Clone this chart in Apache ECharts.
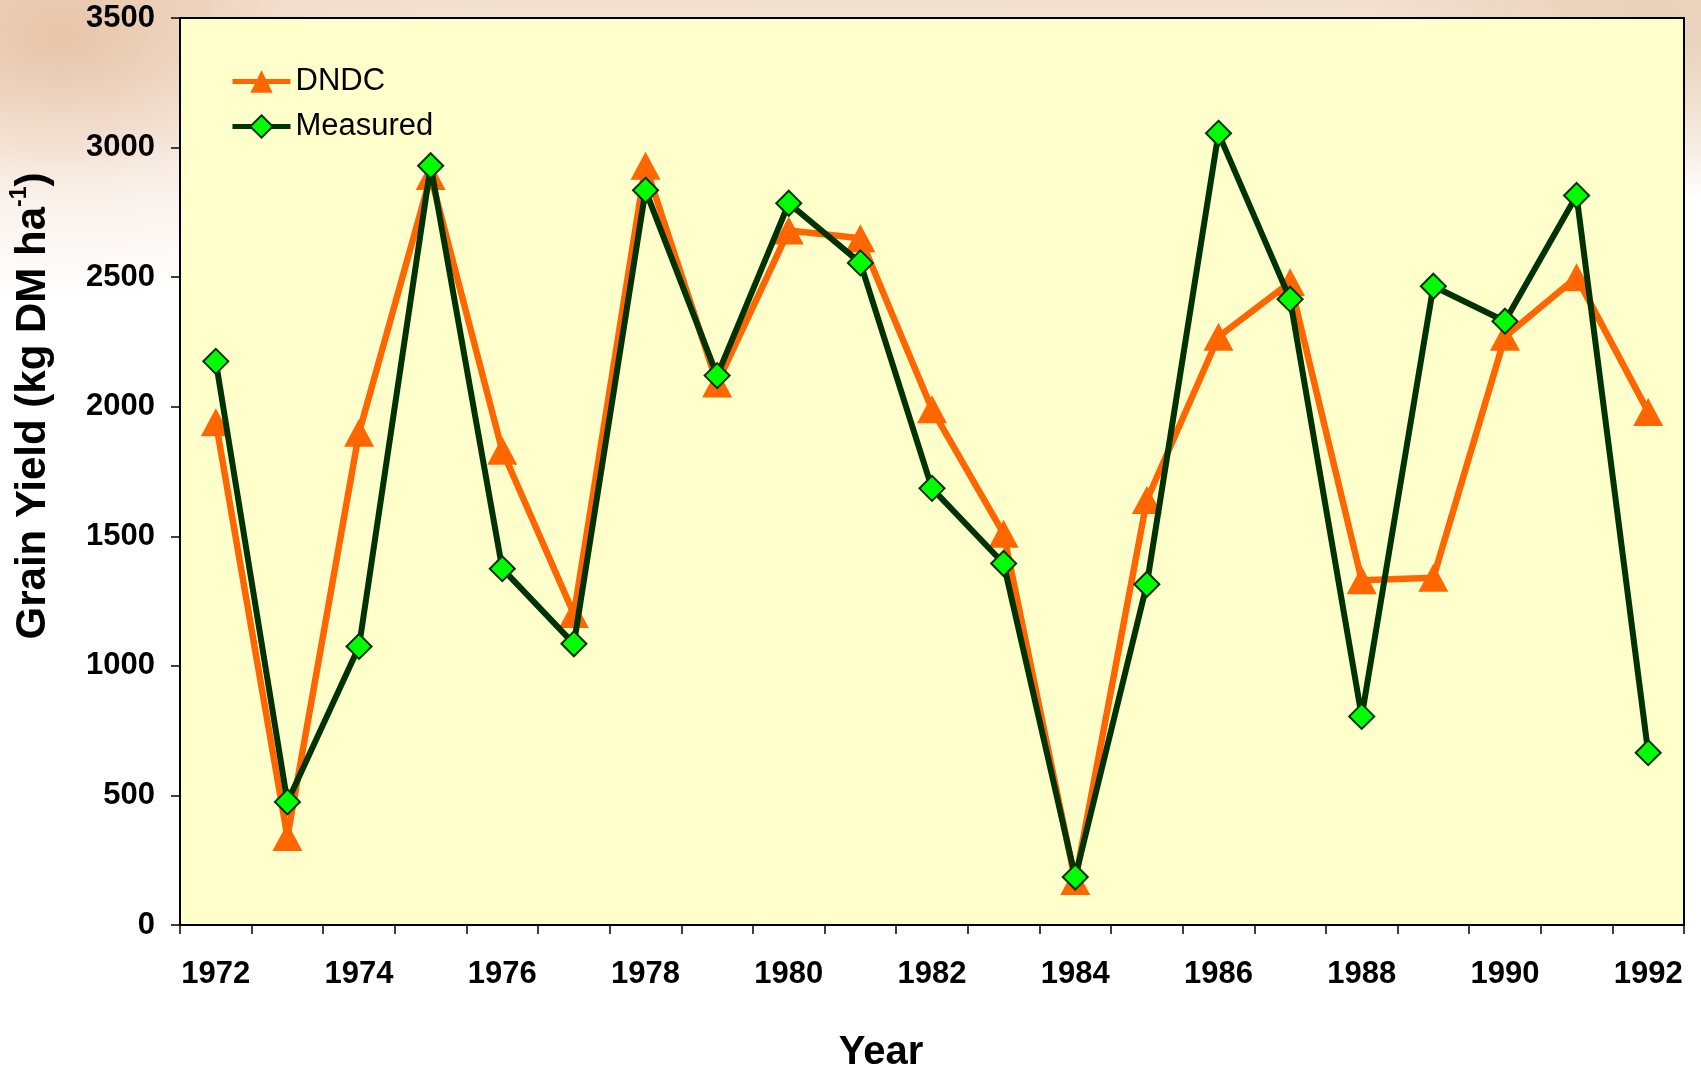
<!DOCTYPE html>
<html>
<head>
<meta charset="utf-8">
<script src="https://cdn.jsdelivr.net/npm/echarts@6/dist/echarts.min.js"></script>
<style>
  html, body { margin: 0; padding: 0; width: 1701px; height: 1073px; overflow: hidden; }
  body {
    background:
      radial-gradient(ellipse 420px 260px at 60px 40px, rgba(228,190,160,0.85), rgba(240,215,195,0.4) 55%, rgba(255,255,255,0) 100%),
      radial-gradient(ellipse 300px 160px at 1650px 40px, rgba(225,200,170,0.7), rgba(255,255,255,0) 100%),
      linear-gradient(180deg, #f3dfcf 0px, #f8ece2 60px, #ffffff 200px);
  }
  #chart { width: 1701px; height: 1073px; }
</style>
</head>
<body>
<div id="chart"></div>
<script>
const years = ['1972','1973','1974','1975','1976','1977','1978','1979','1980','1981','1982',
               '1983','1984','1985','1986','1987','1988','1989','1990','1991','1992'];
const dndc = [1940, 340, 1900, 2890, 1830, 1200, 2930, 2090, 2680, 2650, 1990,
              1510, 170, 1640, 2270, 2480, 1330, 1340, 2270, 2500, 1980];
const measured = [2175, 475, 1075, 2930, 1375, 1085, 2835, 2120, 2785, 2555, 1685,
                  1395, 185, 1315, 3055, 2415, 805, 2465, 2330, 2815, 665];
const seriesNames = ['DNDC', 'Measured'];
const yTitle = '{a|Grain Yield (kg DM ha}{b|-1}{a|)}';
const xTitle = 'Year';

const FONT = '"Liberation Sans", Arial, sans-serif';
const chart = echarts.init(document.getElementById('chart'), null, { renderer: 'canvas' });

chart.setOption({
  animation: false,
  backgroundColor: 'transparent',
  grid: {
    left: 180, top: 18, right: 17, bottom: 148,
    outerBoundsMode: 'none', containLabel: false,
    show: true, backgroundColor: '#FFFFCC', borderColor: '#000', borderWidth: 2
  },
  legend: {
    orient: 'vertical', left: 225, top: 61, itemGap: 14,
    itemWidth: 58, itemHeight: 28,
    lineStyle: { width: 5 },
    textStyle: { fontFamily: FONT, fontSize: 31, color: '#000' },
    data: seriesNames
  },
  xAxis: {
    type: 'category', data: years, boundaryGap: true,
    name: xTitle, nameLocation: 'middle', nameGap: 108,
    nameTextStyle: { fontFamily: FONT, fontSize: 40, fontWeight: 'bold', color: '#000', padding: [0, 102, 0, 0] },
    axisLine: { lineStyle: { color: '#000', width: 2 } },
    axisTick: { show: true, interval: 0, length: 9, lineStyle: { color: '#000', width: 1.5 } },
    axisLabel: { interval: 1, margin: 34, fontFamily: FONT, fontSize: 31, fontWeight: 'bold', color: '#000' },
    splitLine: { show: false }
  },
  yAxis: {
    type: 'value', min: 0, max: 3500, interval: 500,
    axisLine: { show: true, lineStyle: { color: '#000', width: 2 } },
    axisTick: { show: true, length: 9, lineStyle: { color: '#000', width: 1.5 } },
    axisLabel: { margin: 25, fontFamily: FONT, fontSize: 31, fontWeight: 'bold', color: '#000',
                 formatter: function (v) { return String(v); } },
    splitLine: { show: false }
  },
  graphic: [{
    type: 'text', x: 33, y: 406, rotation: Math.PI / 2,
    style: {
      text: yTitle, textAlign: 'center', textVerticalAlign: 'middle',
      rich: {
        a: { fontFamily: FONT, fontSize: 42, fontWeight: 'bold', fill: '#000', color: '#000', lineHeight: 50 },
        b: { fontFamily: FONT, fontSize: 23, fontWeight: 'bold', fill: '#000', color: '#000', verticalAlign: 'top', lineHeight: 24 }
      }
    }
  }],
  series: [
    {
      name: seriesNames[0], type: 'line', data: dndc,
      symbol: 'triangle', symbolSize: [30, 28],
      itemStyle: { color: '#FF6600' },
      lineStyle: { color: '#FF6600', width: 6.5 },
      z: 2
    },
    {
      name: seriesNames[1], type: 'line', data: measured,
      symbol: 'diamond', symbolSize: 25,
      itemStyle: { color: '#00FF00', borderColor: '#003300', borderWidth: 2 },
      lineStyle: { color: '#003300', width: 6 },
      z: 3
    }
  ]
});
</script>
</body>
</html>
